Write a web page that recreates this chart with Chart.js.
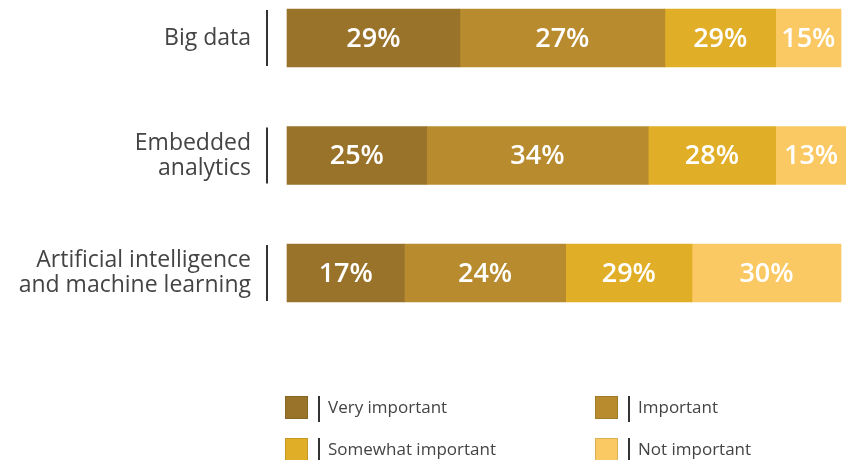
<!DOCTYPE html>
<html>
<head>
<meta charset="utf-8">
<script src="https://cdn.jsdelivr.net/npm/chart.js@4"></script>
<style>
  html, body { margin: 0; padding: 0; background: #fff; }
  #wrap { width: 846px; height: 460px; position: relative; }
</style>
</head>
<body>
<div id="wrap"><canvas id="chart"></canvas></div>
<script>
const categories = ['Big data', ['Embedded', 'analytics'], ['Artificial intelligence', 'and machine learning']];
const seriesNames = ['Very important', 'Important', 'Somewhat important', 'Not important'];

// segment lengths as they are drawn in the picture
const veryImportant = [31.2, 25.2, 21.2];
const important = [37.0, 40.0, 29.1];
const somewhatImportant = [20.0, 23.0, 22.8];
const notImportant = [11.8, 12.8, 26.9];

// percentages printed on the segments
const veryImportantText = ['29%', '25%', '17%'];
const importantText = ['27%', '34%', '24%'];
const somewhatImportantText = ['29%', '28%', '29%'];
const notImportantText = ['15%', '13%', '30%'];

const colors = ['#9a732a', '#b88c2e', '#e0ae27', '#fbc963'];
const FONT = '"Open Sans", "Noto Sans", sans-serif';

const series = [veryImportant, important, somewhatImportant, notImportant];
const printed = [veryImportantText, importantText, somewhatImportantText, notImportantText];

// white percentage text in the middle of every segment
const barLabels = {
    id: 'barLabels',
    afterDatasetsDraw(chart) {
        const ctx = chart.ctx;
        ctx.save();
        ctx.font = '600 27px ' + FONT;
        ctx.fillStyle = '#ffffff';
        ctx.textAlign = 'center';
        ctx.textBaseline = 'middle';
        chart.data.datasets.forEach((ds, i) => {
            chart.getDatasetMeta(i).data.forEach((bar, j) => {
                ctx.fillText(ds.printed[j], (bar.x + bar.base) / 2, bar.y + 1);
            });
        });
        ctx.restore();
    }
};

// short dark rule between the category label and its bar
const labelRules = {
    id: 'labelRules',
    afterDraw(chart) {
        const ctx = chart.ctx;
        const y = chart.scales.y;
        ctx.save();
        ctx.strokeStyle = '#333';
        ctx.lineWidth = 2;
        y.ticks.forEach((t, i) => {
            const py = y.getPixelForTick(i);
            ctx.beginPath();
            ctx.moveTo(267, py - 28);
            ctx.lineTo(267, py + 28);
            ctx.stroke();
        });
        ctx.restore();
    }
};

// two-column legend under the bars
const gridLegend = {
    id: 'gridLegend',
    afterDraw(chart) {
        const ctx = chart.ctx;
        const cols = [285, 595];
        const rows = [408, 450];
        ctx.save();
        ctx.font = '17px ' + FONT;
        ctx.textBaseline = 'middle';
        ctx.textAlign = 'left';
        chart.data.datasets.forEach((ds, i) => {
            const x = cols[i % 2];
            const y = rows[Math.floor(i / 2)];
            ctx.fillStyle = ds.backgroundColor;
            ctx.fillRect(x, y - 12, 23, 23);
            ctx.strokeStyle = 'rgba(0,0,0,0.12)';
            ctx.lineWidth = 1;
            ctx.strokeRect(x + 0.5, y - 11.5, 22, 22);
            ctx.strokeStyle = '#333';
            ctx.lineWidth = 2;
            ctx.beginPath();
            ctx.moveTo(x + 34, y - 12);
            ctx.lineTo(x + 34, y + 14);
            ctx.stroke();
            ctx.fillStyle = '#444';
            ctx.fillText(ds.label, x + 43, y);
        });
        ctx.restore();
    }
};

new Chart(document.getElementById('chart'), {
    type: 'bar',
    data: {
        labels: categories,
        datasets: series.map((values, i) => ({
            label: seriesNames[i],
            data: values,
            printed: printed[i],
            backgroundColor: colors[i],
            borderWidth: 0,
            barThickness: 58,
            clip: false
        }))
    },
    options: {
        indexAxis: 'y',
        responsive: true,
        maintainAspectRatio: false,
        animation: false,
        layout: {
            padding: { left: 0, right: 5, top: 38, bottom: 187 }
        },
        scales: {
            x: {
                stacked: true,
                min: 0,
                max: 100,
                display: false
            },
            y: {
                stacked: true,
                offset: false,
                grid: { display: false, drawTicks: false },
                border: { display: false },
                ticks: {
                    color: '#444',
                    padding: 36,
                    font: { family: FONT, size: 23, lineHeight: 1.09 }
                },
                afterFit(scale) {
                    scale.width = 287;
                    scale.paddingTop = 0;
                    scale.paddingBottom = 0;
                }
            }
        },
        plugins: {
            legend: { display: false },
            tooltip: { enabled: false }
        }
    },
    plugins: [barLabels, labelRules, gridLegend]
});
</script>
</body>
</html>
